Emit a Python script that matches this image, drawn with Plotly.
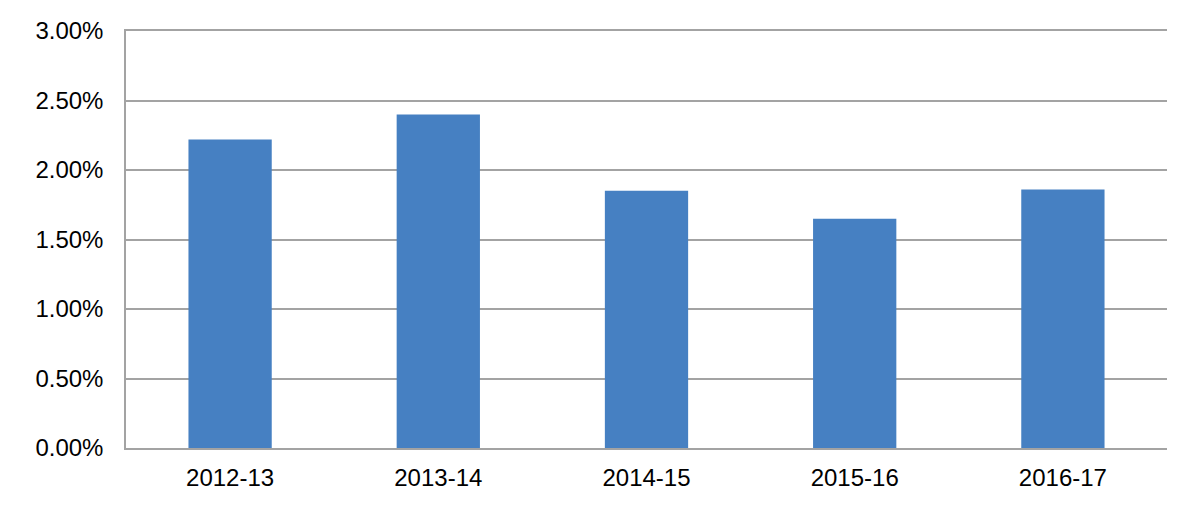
import plotly.graph_objects as go

categories = ["2012-13", "2013-14", "2014-15", "2015-16", "2016-17"]
values = [0.0222, 0.0240, 0.0185, 0.0165, 0.0186]
y_ticks = [0, 0.005, 0.01, 0.015, 0.02, 0.025, 0.03]
y_tick_labels = ["0.00%", "0.50%", "1.00%", "1.50%", "2.00%", "2.50%", "3.00%"]

fig = go.Figure(go.Bar(x=categories, y=values, marker=dict(color="#4680C2", line=dict(width=0))))

grid = "#A3A3A3"
fig.update_layout(
    width=1194, height=499,
    margin=dict(l=118, r=35, t=23, b=59),
    paper_bgcolor="white", plot_bgcolor="white",
    bargap=0.6,
    showlegend=False,
    font=dict(family="Liberation Sans, Arial, sans-serif", size=24, color="black"),
)
fig.update_yaxes(
    range=[0, 0.03], tickvals=y_ticks, ticktext=y_tick_labels,
    showgrid=True, gridcolor=grid, gridwidth=1.5,
    showline=True, linecolor=grid, linewidth=1.5,
    ticks="", ticklabelstandoff=16, zeroline=False, automargin=False,
)
fig.update_xaxes(
    showline=True, linecolor=grid, linewidth=1.5, mirror=True,
    ticks="", ticklabelstandoff=7, showgrid=False, automargin=False,
)
fig.write_html("out.html")
